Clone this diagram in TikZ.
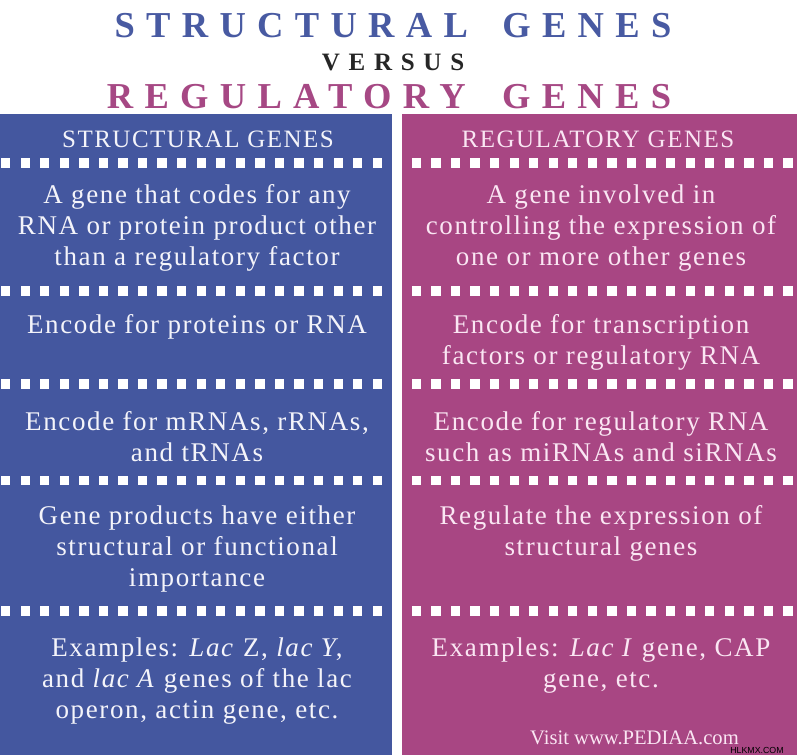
\documentclass[tikz,border=0pt]{standalone}
\usepackage{fontspec}
\setmainfont{Liberation Serif}
\newfontfamily\titlefont[LetterSpace=31]{Liberation Serif}
\newfontfamily\versusfont[LetterSpace=35]{Liberation Serif}
\newfontfamily\bodyfont[LetterSpace=6]{Liberation Serif}
\newfontfamily\markfont{Liberation Sans}
\definecolor{sgblue}{RGB}{68,87,159}
\definecolor{rgmag}{RGB}{168,70,131}
\definecolor{ttblue}{RGB}{72,90,162}
\definecolor{ttmag}{RGB}{166,72,132}
\definecolor{ltxt}{RGB}{244,244,250}
\definecolor{rtxt}{RGB}{250,230,243}
\begin{document}
\begin{tikzpicture}[x=1pt,y=-1pt,
  bigtitle/.style={anchor=base,inner sep=0pt,font=\titlefont\bfseries\fontsize{36.5}{40}\selectfont},
  vstitle/.style={anchor=base,inner sep=0pt,text=black!85,font=\versusfont\bfseries\fontsize{25}{28}\selectfont},
  headtxt/.style={anchor=base,inner sep=0pt,font=\bodyfont\fontsize{25}{28}\selectfont},
  celltxt/.style={anchor=base,inner sep=0pt,font=\bodyfont\fontsize{27}{31}\selectfont},
  ltext/.style={celltxt,text=ltxt},
  rtext/.style={celltxt,text=rtxt},
  sq/.style={fill=white}]
\useasboundingbox (0,0) rectangle (797,755);
\fill[white] (0,0) rectangle (797,755);
% titles
\node[bigtitle,text=ttblue] (t1) at (393,37.3) {STRUCTURAL\hspace{14pt} GENES};
\node[vstitle] (t2) at (393,70) {VERSUS};
\node[bigtitle,text=ttmag] (t3) at (389,108.3) {REGULATORY\hspace{16pt} GENES};
% panels
\fill[sgblue] (0,114) rectangle (392,755);
\fill[rgmag] (402,114) rectangle (797,755);
% dotted separators
\foreach \yy in {163,291,384,480.5,611}{
  \foreach \i in {0,...,19}{
    \fill[sq] (1+\i*19.56,\yy-4.65) rectangle ++(9.3,9.3);
    \fill[sq] (411.7+\i*19.56,\yy-4.65) rectangle ++(9.3,9.3);
  }
}
% headers
\node[headtxt,text=ltxt] (hl) at (198,147) {STRUCTURAL GENES};
\node[headtxt,text=rtxt] (hr) at (598,147) {REGULATORY GENES};
% left column
\node[ltext] (l1a) at (197,203) {A gene that codes for any};
\node[ltext] (l1b) at (197,234) {RNA or protein product other};
\node[ltext] (l1c) at (197,265) {than a regulatory factor};
\node[ltext] (l2a) at (197,333) {Encode for proteins or RNA};
\node[ltext] (l3a) at (197,430) {Encode for mRNAs, rRNAs,};
\node[ltext] (l3b) at (197,461) {and tRNAs};
\node[ltext] (l4a) at (197,524) {Gene products have either};
\node[ltext] (l4b) at (197,555) {structural or functional};
\node[ltext] (l4c) at (197,586) {importance};
\node[ltext] (l5a) at (197,656) {Examples: \textit{Lac} Z, \textit{lac Y},};
\node[ltext] (l5b) at (197,687) {and \textit{lac A} genes of the lac};
\node[ltext] (l5c) at (197,718) {operon, actin gene, etc.};
% right column
\node[rtext] (r1a) at (601,203) {A gene involved in};
\node[rtext] (r1b) at (601,234) {controlling the expression of};
\node[rtext] (r1c) at (601,265) {one or more other genes};
\node[rtext] (r2a) at (601,333) {Encode for transcription};
\node[rtext] (r2b) at (601,364) {factors or regulatory RNA};
\node[rtext] (r3a) at (601,430) {Encode for regulatory RNA};
\node[rtext] (r3b) at (601,461) {such as miRNAs and siRNAs};
\node[rtext] (r4a) at (601,524) {Regulate the expression of};
\node[rtext] (r4b) at (601,555) {structural genes};
\node[rtext] (r5a) at (601,656) {Examples: \textit{Lac I} gene, CAP};
\node[rtext] (r5b) at (601,687) {gene, etc.};
% footer
\node[anchor=base,inner sep=0pt,text=rtxt,font=\fontsize{20.6}{23}\selectfont] (visit) at (634.5,744.5) {Visit www.PEDIAA.com};
\node[anchor=base,inner sep=0pt,text=black,font=\markfont\fontsize{8.8}{10}\selectfont] (mark) at (757,753.5) {HLKMX.COM};
\end{tikzpicture}
\end{document}
